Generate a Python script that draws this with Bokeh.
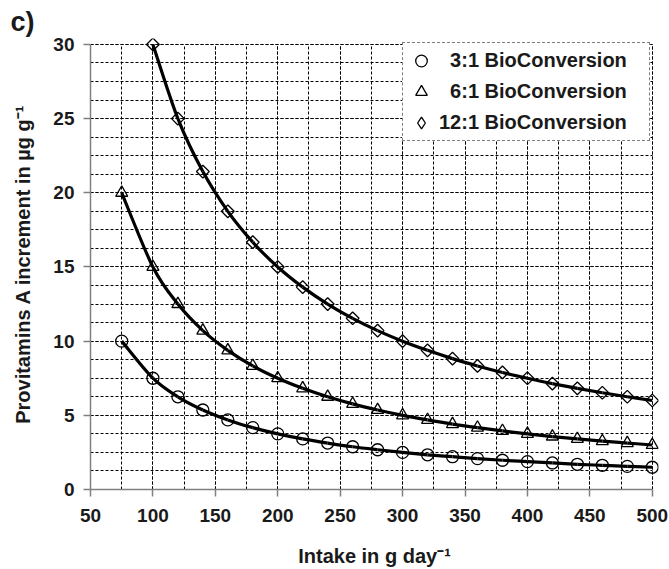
import numpy as np
from bokeh.plotting import figure
from bokeh.models import (Range1d, SingleIntervalTicker, Legend, LegendItem,
                          Title, ColumnDataSource)
from bokeh.embed import file_html
from bokeh.resources import INLINE

# ---- data ----
intake_3_6 = [75, 100, 120, 140, 160, 180, 200, 220, 240, 260, 280, 300,
              320, 340, 360, 380, 400, 420, 440, 460, 480, 500]
bio_3_1 = [10.0, 7.5, 6.25, 5.36, 4.69, 4.17, 3.75, 3.41, 3.13, 2.88, 2.68,
           2.5, 2.34, 2.21, 2.08, 1.97, 1.88, 1.79, 1.70, 1.63, 1.56, 1.5]
bio_6_1 = [20.0, 15.0, 12.5, 10.71, 9.38, 8.33, 7.5, 6.82, 6.25, 5.77, 5.36,
           5.0, 4.69, 4.41, 4.17, 3.95, 3.75, 3.57, 3.41, 3.26, 3.13, 3.0]
intake_12 = [100, 120, 140, 160, 180, 200, 220, 240, 260, 280, 300, 320,
             340, 360, 380, 400, 420, 440, 460, 480, 500]
bio_12_1 = [30.0, 25.0, 21.43, 18.75, 16.67, 15.0, 13.64, 12.5, 11.54, 10.71,
            10.0, 9.38, 8.82, 8.33, 7.89, 7.5, 7.14, 6.82, 6.52, 6.25, 6.0]
series_labels = ["\u00a0\u00a03:1 BioConversion", "\u00a0\u00a06:1 BioConversion",
                 "12:1 BioConversion"]

FONT = "Liberation Sans"
TXT = "#1a1a1a"
AX = "#808080"

# ranges slightly padded so edge markers are not clipped; axes/grids bounded to data limits
p = figure(width=669, height=569, output_backend="svg", toolbar_location=None,
           x_range=Range1d(50, 505), y_range=Range1d(0, 30.4),
           min_border_left=90, min_border_right=11, min_border_top=38,
           min_border_bottom=80)
p.outline_line_color = None
p.background_fill_color = "white"
p.border_fill_color = "white"

p.xaxis.ticker = SingleIntervalTicker(interval=50, num_minor_ticks=2)
p.yaxis.ticker = SingleIntervalTicker(interval=5, num_minor_ticks=4)
p.xaxis.bounds = (50, 500)
p.yaxis.bounds = (0, 30)

for ax in (p.xaxis[0], p.yaxis[0]):
    ax.axis_line_color = AX
    ax.axis_line_width = 1.5
    ax.major_tick_line_color = AX
    ax.major_tick_line_width = 1.5
    ax.major_tick_in = 0
    ax.major_tick_out = 7
    ax.minor_tick_line_color = None
    ax.major_label_text_font = FONT
    ax.major_label_text_font_style = "bold"
    ax.major_label_text_font_size = "19px"
    ax.major_label_text_color = TXT
    ax.axis_label_text_font = FONT
    ax.axis_label_text_font_style = "bold"
    ax.axis_label_text_font_size = "20px"
    ax.axis_label_text_color = TXT

p.xaxis.major_label_standoff = 12
p.yaxis.major_label_standoff = 9
p.xaxis.axis_label = "Intake in g day\u207b\u00b9"
p.yaxis.axis_label = "Provitamins A increment in \u00b5g g\u207b\u00b9"
p.xaxis.axis_label_standoff = 20
p.yaxis.axis_label_standoff = 16

for g in (p.xgrid[0], p.ygrid[0]):
    g.grid_line_color = "black"
    g.grid_line_width = 1
    g.grid_line_dash = "3 2"
    g.minor_grid_line_color = "black"
    g.minor_grid_line_width = 1
    g.minor_grid_line_dash = "3 2"
p.xgrid[0].bounds = (50, 500)
p.xgrid[0].cross_bounds = (0, 30)
p.ygrid[0].bounds = (0, 30)
p.ygrid[0].cross_bounds = (50, 500)


def smooth_segments(xs, ys):
    x = np.asarray(xs, float)
    y = np.asarray(ys, float)
    xp = np.concatenate([[x[0]], x, [x[-1]]])
    yp = np.concatenate([[y[0]], y, [y[-1]]])
    return dict(
        x0=x[:-1], y0=y[:-1], x1=x[1:], y1=y[1:],
        cx0=x[:-1] + (x[1:] - xp[:-3]) / 6.0,
        cy0=y[:-1] + (y[1:] - yp[:-3]) / 6.0,
        cx1=x[1:] - (xp[3:] - x[:-1]) / 6.0,
        cy1=y[1:] - (yp[3:] - y[:-1]) / 6.0,
    )


series = [
    (intake_3_6, bio_3_1, "circle", 12, 0.0),
    (intake_3_6, bio_6_1, "triangle", 12, 0.0),
    (intake_12, bio_12_1, "square", 9, np.pi / 4),
]

for xs, ys, marker, size, ang in series:
    seg = ColumnDataSource(smooth_segments(xs, ys))
    p.bezier(x0="x0", y0="y0", x1="x1", y1="y1", cx0="cx0", cy0="cy0",
             cx1="cx1", cy1="cy1", source=seg, line_color="black",
             line_width=3.2)
marker_renderers = []
for xs, ys, marker, size, ang in series:
    src = ColumnDataSource(dict(x=xs, y=ys))
    r = p.scatter("x", "y", source=src, marker=marker, size=size, angle=ang,
                  fill_alpha=0, line_color="black", line_width=1.3)
    marker_renderers.append(r)

# legend key for the diamond series (legend keys ignore marker rotation)
diamond_key = p.scatter(x=[float("nan")], y=[float("nan")], marker="diamond",
                        fill_alpha=0, line_color="black", line_width=1.3)

items = [
    LegendItem(label=series_labels[0], renderers=[marker_renderers[0]]),
    LegendItem(label=series_labels[1], renderers=[marker_renderers[1]]),
    LegendItem(label=series_labels[2], renderers=[diamond_key]),
]

legend = Legend(items=items, location=(312, 348), margin=0, padding=3,
                spacing=2, glyph_width=30, glyph_height=29, label_height=29,
                label_standoff=3, label_width=207,
                label_text_font=FONT, label_text_font_style="bold",
                label_text_font_size="20px", label_text_color=TXT,
                background_fill_color="white", background_fill_alpha=1,
                border_line_color="black", border_line_dash="3 2",
                border_line_width=1)
p.add_layout(legend, "center")

p.add_layout(Title(text="c)", align="left", offset=-80, standoff=4,
                   text_font=FONT, text_font_style="bold",
                   text_font_size="27px", text_color=TXT), "above")

open("out.html", "w").write(file_html(p, INLINE))
